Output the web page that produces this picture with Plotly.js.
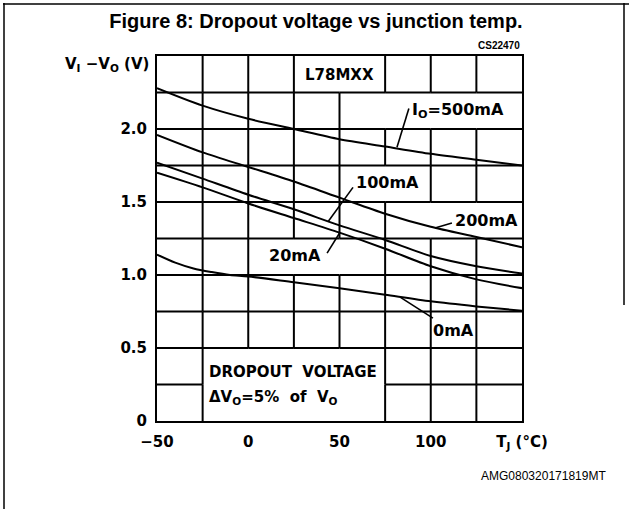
<!DOCTYPE html>
<html>
<head>
<meta charset="utf-8">
<script src="https://cdn.plot.ly/plotly-3.0.1.min.js"></script>
<style>html,body{margin:0;padding:0;background:#fff;}#chart{width:629px;height:509px;}</style>
</head>
<body>
<div id="chart"></div>
<script>
// ---- data ----
const temps = [-50, -25, 0, 25, 50, 75, 100, 125, 150];
const v500mA = [2.28, 2.16, 2.07, 2.00, 1.93, 1.88, 1.83, 1.79, 1.75];
const v200mA = [1.96, 1.84, 1.74, 1.64, 1.53, 1.42, 1.33, 1.26, 1.19];
const v100mA = [1.77, 1.66, 1.55, 1.45, 1.34, 1.24, 1.13, 1.06, 1.01];
const v20mA  = [1.70, 1.60, 1.49, 1.39, 1.29, 1.18, 1.06, 0.97, 0.91];
const temps0mA = [-50, -40, -30, -20, -10, 0, 25, 50, 75, 100, 125, 150];
const v0mA     = [1.14, 1.085, 1.045, 1.02, 1.00, 0.99, 0.95, 0.91, 0.865, 0.82, 0.785, 0.755];

const xTickVals = [-50, 0, 50, 100, 150];
const xTickText = ['\u221250', '0', '50', '100', 'T<sub>J</sub> (\u00b0C)'];
const yTickVals = [0, 0.5, 1.0, 1.5, 2.0];
const yTickText = ['0', '0.5', '1.0', '1.5', '2.0'];

// ---- layout helpers ----
const W = 629, H = 509, PL = 157, PR = 522, PT = 56, PB = 421;
const XR = [-50, 150], YR = [0, 2.5];
const fx = p => (p - PL) / (PR - PL);
const fy = p => (PB - p) / (PB - PT);
const FONT = 'DejaVu Sans';

// grid cells left open for the labels
const labelCells = [
  [25, 75, 2.25, 2.5],
  [50, 150, 2.0, 2.25],
  [50, 100, 1.5, 1.75],
  [75, 150, 1.25, 1.5],
  [0, 75, 1.0, 1.25],
  [-25, 75, 0, 0.5]
];
const xGrid = [], yGrid = [];
for (let x = -50; x <= 150; x += 25) xGrid.push(x);
for (let k = 0; k <= 10; k++) yGrid.push(k * 0.25);

const shapes = [];
const gridLine = {color: '#000', width: 2};
// vertical grid segments
xGrid.slice(1, -1).forEach(x => {
  for (let j = 0; j < yGrid.length - 1; j++) {
    const y0 = yGrid[j], y1 = yGrid[j + 1];
    const hidden = labelCells.some(c => c[0] < x && x < c[1] && y0 >= c[2] - 1e-9 && y1 <= c[3] + 1e-9);
    if (!hidden) shapes.push({type: 'line', xref: 'x', yref: 'y', x0: x, x1: x, y0: y0, y1: y1, line: gridLine, layer: 'below'});
  }
});
// horizontal grid segments
yGrid.slice(1, -1).forEach(y => {
  for (let i = 0; i < xGrid.length - 1; i++) {
    const x0 = xGrid[i], x1 = xGrid[i + 1];
    const hidden = labelCells.some(c => c[2] < y && y < c[3] && x0 >= c[0] - 1e-9 && x1 <= c[1] + 1e-9);
    if (!hidden) shapes.push({type: 'line', xref: 'x', yref: 'y', x0: x0, x1: x1, y0: y, y1: y, line: gridLine, layer: 'below'});
  }
});

// leader lines from labels to curves
const leaders = [
  [88, 2.14, 81.5, 1.875],
  [57.4, 1.60, 43.7, 1.365],
  [111.6, 1.356, 102.3, 1.322],
  [43.2, 1.15, 50.3, 1.293],
  [83.2, 0.849, 101.2, 0.705]
];
leaders.forEach(l => shapes.push({type: 'line', xref: 'x', yref: 'y', x0: l[0], y0: l[1], x1: l[2], y1: l[3], line: {color: '#000', width: 1.6}}));

// outer frame of the figure
const frame = {color: '#000', width: 1.5};
shapes.push({type: 'line', xref: 'paper', yref: 'paper', x0: fx(4), x1: fx(4), y0: fy(3), y1: fy(509), line: frame});
shapes.push({type: 'line', xref: 'paper', yref: 'paper', x0: fx(3), x1: fx(629), y0: fy(4), y1: fy(4), line: frame});
shapes.push({type: 'line', xref: 'paper', yref: 'paper', x0: fx(624), x1: fx(624), y0: fy(3), y1: fy(305), line: frame});

const curveLine = {color: '#000', width: 2, shape: 'spline', smoothing: 0.8};
const traces = [
  {x: temps, y: v500mA, name: '500mA'},
  {x: temps, y: v200mA, name: '200mA'},
  {x: temps, y: v100mA, name: '100mA'},
  {x: temps, y: v20mA, name: '20mA'},
  {x: temps0mA, y: v0mA, name: '0mA'}
].map(t => Object.assign(t, {type: 'scatter', mode: 'lines', line: curveLine, hoverinfo: 'skip'}));

const lbl = (text, x, y, size, xanchor) => ({
  text: text, x: x, y: y, xref: 'x', yref: 'y', showarrow: false,
  xanchor: xanchor || 'left', yanchor: 'middle',
  font: {family: FONT, size: size || 16, color: '#000', weight: 'bold'}
});

const annotations = [
  lbl('I<sub>O</sub>=500mA', 88.5, 2.125, 16),
  lbl('100mA', 58, 1.635, 16),
  lbl('200mA', 112, 1.375, 16),
  lbl('20mA', 41, 1.135, 16, 'right'),
  lbl('0mA', 112.5, 0.62, 16, 'center'),
  lbl('L78MXX', 50, 2.37, 15, 'center'),
  lbl('DROPOUT  VOLTAGE', -22.5, 0.335, 15),
  lbl('\u0394V<sub>O</sub>=5%  of  V<sub>O</sub>', -22.5, 0.16, 15),
  {text: 'V<sub>I</sub> \u2212V<sub>O</sub> (V)', xref: 'paper', yref: 'paper', x: fx(151), y: fy(64),
   xanchor: 'right', yanchor: 'middle', showarrow: false, font: {family: FONT, size: 15, color: '#000', weight: 'bold'}},
  {text: 'CS22470', xref: 'paper', yref: 'paper', x: fx(522), y: fy(45),
   xanchor: 'right', yanchor: 'middle', showarrow: false, font: {family: 'Liberation Sans', size: 10, color: '#000', weight: 'bold'}},
  {text: 'AMG080320171819MT', xref: 'paper', yref: 'paper', x: fx(608), y: fy(476),
   xanchor: 'right', yanchor: 'middle', showarrow: false, font: {family: 'Liberation Sans', size: 12, color: '#000'}}
];

const layout = {
  width: W, height: H,
  margin: {l: PL, r: W - PR, t: PT, b: H - PB, pad: 0},
  paper_bgcolor: '#fff', plot_bgcolor: '#fff',
  showlegend: false,
  title: {text: 'Figure 8: Dropout voltage vs junction temp.', x: fx(316), xref: 'paper', xanchor: 'center',
          y: 1 - 21 / H, yref: 'container', yanchor: 'middle',
          font: {family: 'Liberation Sans', size: 20, color: '#000', weight: 'bold'}},
  xaxis: {range: XR, showgrid: false, zeroline: false, showline: true, mirror: true, linecolor: '#000', linewidth: 2,
          tickvals: xTickVals, ticktext: xTickText, ticks: '', ticklabelstandoff: 6,
          tickfont: {family: FONT, size: 15, color: '#000', weight: 'bold'}, fixedrange: true},
  yaxis: {range: YR, showgrid: false, zeroline: false, showline: true, mirror: true, linecolor: '#000', linewidth: 2,
          tickvals: yTickVals, ticktext: yTickText, ticks: '', ticklabelstandoff: 5,
          tickfont: {family: FONT, size: 15, color: '#000', weight: 'bold'}, fixedrange: true},
  shapes: shapes,
  annotations: annotations
};

Plotly.newPlot('chart', traces, layout, {staticPlot: true, displayModeBar: false});
</script>
</body>
</html>
